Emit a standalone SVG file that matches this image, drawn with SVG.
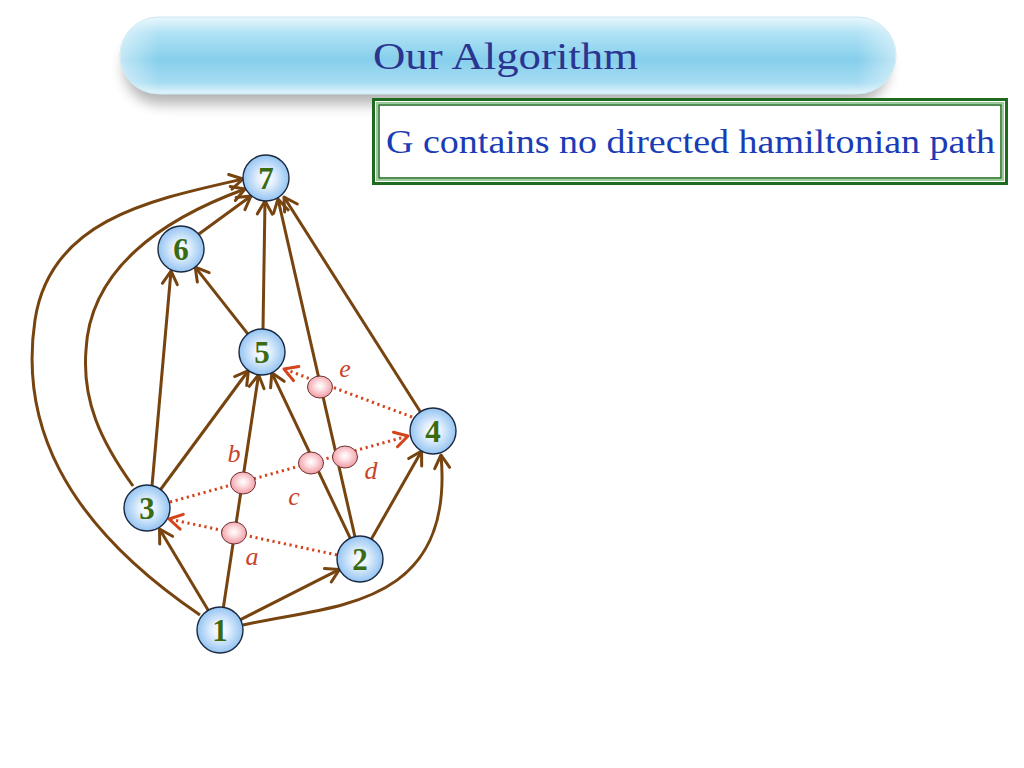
<svg xmlns="http://www.w3.org/2000/svg" width="1024" height="768" viewBox="0 0 1024 768">
<defs>
  <linearGradient id="banner" x1="0" y1="0" x2="0" y2="1">
    <stop offset="0" stop-color="#eaf7fc"/>
    <stop offset="0.2" stop-color="#b2e3f5"/>
    <stop offset="0.55" stop-color="#86cfec"/>
    <stop offset="0.85" stop-color="#a6dcf2"/>
    <stop offset="1" stop-color="#e4f5fc"/>
  </linearGradient>
  <linearGradient id="bannerSide" x1="0" y1="0" x2="1" y2="0">
    <stop offset="0" stop-color="#ffffff" stop-opacity="0.5"/>
    <stop offset="0.05" stop-color="#ffffff" stop-opacity="0"/>
    <stop offset="0.95" stop-color="#ffffff" stop-opacity="0"/>
    <stop offset="1" stop-color="#ffffff" stop-opacity="0.5"/>
  </linearGradient>
  <filter id="shadow" x="-10%" y="-30%" width="120%" height="180%">
    <feGaussianBlur stdDeviation="7"/>
  </filter>
  <radialGradient id="nodeFill" cx="0.5" cy="0.5" r="0.5">
    <stop offset="0" stop-color="#ffffff"/>
    <stop offset="0.35" stop-color="#e6f1fd"/>
    <stop offset="1" stop-color="#94c4f2"/>
  </radialGradient>
  <radialGradient id="pinkFill" cx="0.5" cy="0.45" r="0.55">
    <stop offset="0" stop-color="#ffffff"/>
    <stop offset="0.3" stop-color="#fde6e8"/>
    <stop offset="1" stop-color="#f19aa2"/>
  </radialGradient>
  <marker id="arrB" viewBox="-16 -11 19 22" refX="0" refY="0" markerWidth="19" markerHeight="22" markerUnits="userSpaceOnUse" orient="auto" overflow="visible">
    <path d="M -13 -7.5 L 0 0 L -13 7.5" fill="none" stroke="#774410" stroke-width="3" stroke-linecap="round" stroke-linejoin="round"/>
  </marker>
  <marker id="arrR" viewBox="-16 -11 19 22" refX="0" refY="0" markerWidth="19" markerHeight="22" markerUnits="userSpaceOnUse" orient="auto" overflow="visible">
    <path d="M -13 -7.5 L 0 0 L -13 7.5" fill="none" stroke="#d4441c" stroke-width="3" stroke-linecap="round" stroke-linejoin="round"/>
  </marker>
</defs>
<style>
  .edge { fill: none; stroke: #774410; stroke-width: 3; marker-end: url(#arrB); }
  .dot { fill: none; stroke: #d4441c; stroke-width: 3; stroke-dasharray: 2.2 3.6; marker-end: url(#arrR); }
  .node { fill: url(#nodeFill); stroke: #1a2840; stroke-width: 1.4; }
  .pink { fill: url(#pinkFill); stroke: #6a3434; stroke-width: 1; }
  .num { font-family: "Liberation Serif", "DejaVu Serif", serif; font-weight: bold; font-size: 31px; fill: #3a6b12; text-anchor: middle; }
  .lbl { font-family: "Liberation Serif", "DejaVu Serif", serif; font-style: italic; font-size: 26px; fill: #c8442a; text-anchor: middle; }
</style>
<rect width="1024" height="768" fill="#ffffff"/>

<g id="title">
  <rect x="124" y="32" width="764" height="72" rx="36" fill="#000000" opacity="0.3" filter="url(#shadow)"/>
  <rect x="120" y="17" width="776" height="77" rx="38.5" fill="url(#banner)" stroke="#c8e8f4" stroke-width="1"/>
  <rect x="120" y="17" width="776" height="77" rx="38.5" fill="url(#bannerSide)"/>
  <text x="373" y="69" font-family="Liberation Serif, DejaVu Serif, serif" font-size="38" fill="#2b3590" textLength="265" lengthAdjust="spacingAndGlyphs">Our Algorithm</text>
</g>

<g id="statement">
  <rect x="373.5" y="99.5" width="633" height="84" fill="#ffffff" stroke="#1e6a1e" stroke-width="3"/>
  <rect x="377" y="103" width="626" height="77" fill="none" stroke="#9ccb9c" stroke-width="2"/>
  <rect x="379" y="105" width="622" height="73" fill="none" stroke="#1e6a1e" stroke-width="1.5"/>
  <text x="386" y="153" font-family="Liberation Serif, DejaVu Serif, serif" font-size="34" fill="#1a3cb4" textLength="609" lengthAdjust="spacingAndGlyphs">G contains no directed hamiltonian path</text>
</g>

<g id="connectors">
  <path class="edge" d="M 240.5 619.6 L 339.5 569.4"/>
  <path class="edge" d="M 208.2 610.3 L 159.5 529"/>
  <path class="edge" d="M 223.4 607.3 L 258.6 374.7"/>
  <path class="edge" d="M 243 625 C 330 605, 455 610, 441 455"/>
  <path class="edge" d="M 200 615 C 60 520, 20 420, 35 320 C 50 220, 150 200, 243 179"/>
  <path class="edge" d="M 133 486 C 100 440, 82 400, 86 350 C 90 270, 160 220, 245 189"/>
  <path class="edge" d="M 152 486 L 171 271"/>
  <path class="edge" d="M 160.6 489.5 L 248.4 370.5"/>
  <path class="edge" d="M 247.8 333.9 L 195.2 267.1"/>
  <path class="edge" d="M 263 329 L 265 201"/>
  <path class="edge" d="M 198.6 234.3 L 251 196"/>
  <path class="edge" d="M 350.2 538.2 L 271.8 372.8"/>
  <path class="edge" d="M 355 537 L 278 199"/>
  <path class="edge" d="M 420.3 411.8 L 284 197"/>
  <path class="edge" d="M 371.4 539 L 421.6 451"/>
  <path class="dot" d="M 337 555 L 169 519"/>
  <path class="dot" d="M 170 502 L 408 436"/>
  <path class="dot" d="M 412 417 L 284 369"/>
</g>

<g id="sub-a"><ellipse class="pink" cx="234" cy="533" rx="12.5" ry="11"/><text class="lbl" x="252" y="565">a</text></g>
<g id="sub-b"><ellipse class="pink" cx="243" cy="483" rx="12.5" ry="11"/><text class="lbl" x="234" y="462">b</text></g>
<g id="sub-c"><ellipse class="pink" cx="311" cy="463" rx="12.5" ry="11"/><text class="lbl" x="294" y="505">c</text></g>
<g id="sub-d"><ellipse class="pink" cx="345" cy="457" rx="12.5" ry="11"/><text class="lbl" x="371" y="479">d</text></g>
<g id="sub-e"><ellipse class="pink" cx="320" cy="387" rx="12.5" ry="11"/><text class="lbl" x="345" y="377">e</text></g>

<g id="node1"><circle class="node" cx="220" cy="630" r="23"/><text class="num" x="220" y="641">1</text></g>
<g id="node2"><circle class="node" cx="360" cy="559" r="23"/><text class="num" x="360" y="570">2</text></g>
<g id="node3"><circle class="node" cx="147" cy="508" r="23"/><text class="num" x="147" y="519">3</text></g>
<g id="node4"><circle class="node" cx="433" cy="431" r="23"/><text class="num" x="433" y="442">4</text></g>
<g id="node5"><circle class="node" cx="262" cy="352" r="23"/><text class="num" x="262" y="363">5</text></g>
<g id="node6"><circle class="node" cx="181" cy="249" r="23"/><text class="num" x="181" y="260">6</text></g>
<g id="node7"><circle class="node" cx="266" cy="178" r="23"/><text class="num" x="266" y="189">7</text></g>
</svg>
